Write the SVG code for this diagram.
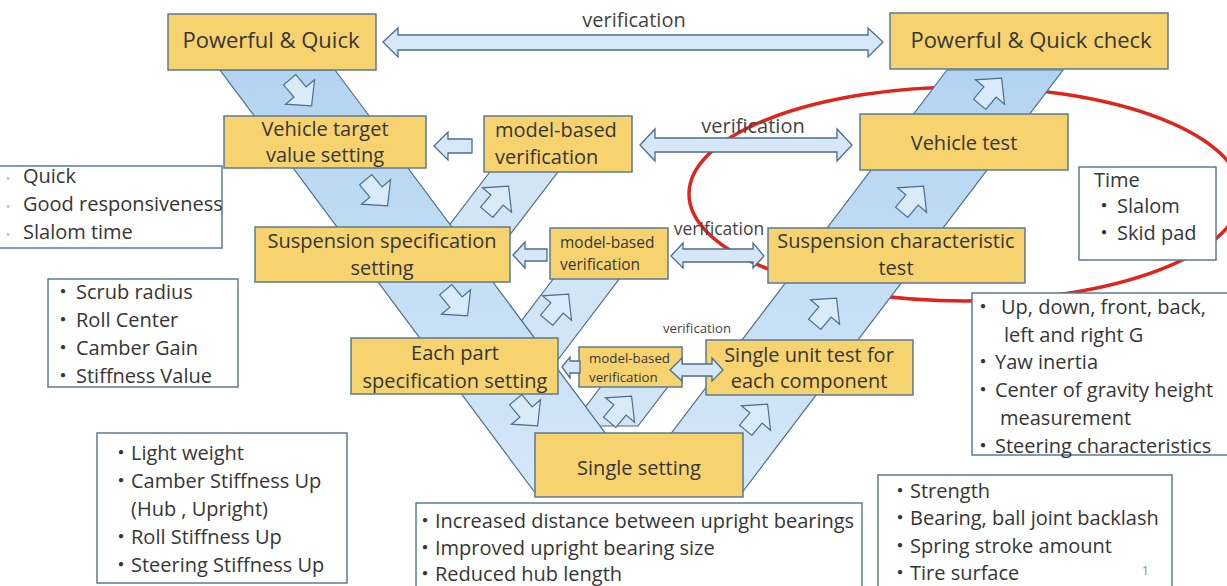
<svg xmlns="http://www.w3.org/2000/svg" xmlns:xlink="http://www.w3.org/1999/xlink" width="1227" height="586" viewBox="0 0 1227 586">
  <defs>
    <linearGradient id="bandFill" gradientUnits="userSpaceOnUse" x1="0" y1="70" x2="0" y2="494">
      <stop offset="0" stop-color="#b3d4f1"/>
      <stop offset="1" stop-color="#d5e8f8"/>
    </linearGradient>
    <!-- block arrow pointing along +x, rotated into place -->
    <path id="chev" d="M-16,-8 L0,-8 L0,-19 L18,0 L0,19 L0,8 L-16,8 Z"/>
    <style>
      .band { fill: url(#bandFill); stroke: #4b6e8e; stroke-width: 1.2; }
      .sub { fill: #d2e5f6; stroke: #4b6e8e; stroke-width: 1.2; }
      .chev { fill: #d9eaf8; stroke: #4b6e8e; stroke-width: 1.2; }
      .box { fill: #f7d36f; stroke: #5c7a93; stroke-width: 1.5; }
      .note { fill: #ffffff; stroke: #5c7a93; stroke-width: 1.5; }
      .link { fill: #d6e8f7; stroke: #4b6e8e; stroke-width: 1.3; }
      text { font-family: "Open Sans", "Noto Sans CJK JP", sans-serif; fill: #363636; }
      .t20 { font-size: 20px; }
      .t22 { font-size: 22px; }
      .mid { text-anchor: middle; }
      .lbl { fill: #444444; }
      .faint { fill: #c4c4c4; font-size: 14px; }
    </style>
  </defs>

  <rect x="0" y="0" width="1227" height="586" fill="#ffffff"/>

  <!-- red ellipse around the vehicle-level tests -->
  <ellipse cx="965" cy="194" rx="276" ry="107" fill="none" stroke="#e0241c" stroke-width="3.5"/>

  <!-- secondary branches to the model-based verification boxes -->
  <g id="branches">
    <polygon class="sub" points="499,160 567,160 483,270 415,270"/>
    <polygon class="sub" points="560,270 626,270 538,386 472,386"/>
    <polygon class="sub" points="606,380 673,380 638,426 571,426"/>
  </g>

  <!-- main V band -->
  <g id="vband">
    <polygon class="band" points="220,70 335,70 638,477 947,70 1063,70 741,494 536,494"/>
  </g>

  <!-- flow arrows inside the bands -->
  <g id="flow-arrows">
    <use xlink:href="#chev" class="chev" transform="translate(300,92) rotate(50)"/>
    <use xlink:href="#chev" class="chev" transform="translate(376,192) rotate(50)"/>
    <use xlink:href="#chev" class="chev" transform="translate(456,302) rotate(50)"/>
    <use xlink:href="#chev" class="chev" transform="translate(526,412) rotate(50)"/>
    <use xlink:href="#chev" class="chev" transform="translate(497,200) rotate(-50)"/>
    <use xlink:href="#chev" class="chev" transform="translate(557,308) rotate(-50)"/>
    <use xlink:href="#chev" class="chev" transform="translate(620,410) rotate(-50)"/>
    <use xlink:href="#chev" class="chev" transform="translate(990,92) rotate(-50)"/>
    <use xlink:href="#chev" class="chev" transform="translate(912,200) rotate(-50)"/>
    <use xlink:href="#chev" class="chev" transform="translate(825,312) rotate(-50)"/>
    <use xlink:href="#chev" class="chev" transform="translate(756,418) rotate(-50)"/>
  </g>

  <!-- process boxes -->
  <g id="n-powerful">
    <rect class="box" x="168" y="14" width="208" height="56"/>
    <text class="t22 mid" x="271" y="48">Powerful &amp; Quick</text>
  </g>
  <g id="n-powerful-check">
    <rect class="box" x="890" y="13" width="278" height="56"/>
    <text class="t22 mid" x="1031" y="48">Powerful &amp; Quick check</text>
  </g>
  <g id="n-vehicle-target">
    <rect class="box" x="224" y="116" width="202" height="52"/>
    <text class="t20 mid" x="325" y="136">Vehicle target</text>
    <text class="t20 mid" x="325" y="162">value setting</text>
  </g>
  <g id="n-mbv1">
    <rect class="box" x="484" y="116" width="148" height="56"/>
    <text class="t20" x="495" y="137">model-based</text>
    <text class="t20" x="495" y="164">verification</text>
  </g>
  <g id="n-vehicle-test">
    <rect class="box" x="860" y="114" width="208" height="56"/>
    <text class="t20 mid" x="964" y="150">Vehicle test</text>
  </g>
  <g id="n-susp-spec">
    <rect class="box" x="255" y="227" width="255" height="55"/>
    <text class="t20 mid" x="382" y="248">Suspension specification</text>
    <text class="t20 mid" x="382" y="275">setting</text>
  </g>
  <g id="n-mbv2">
    <rect class="box" x="550" y="228" width="118" height="51"/>
    <text x="560" y="248" style="font-size:15.5px">model-based</text>
    <text x="560" y="270" style="font-size:15.5px">verification</text>
  </g>
  <g id="n-susp-char">
    <rect class="box" x="768" y="228" width="257" height="55"/>
    <text class="t20 mid" x="896" y="248">Suspension characteristic</text>
    <text class="t20 mid" x="896" y="275">test</text>
  </g>
  <g id="n-each-part">
    <rect class="box" x="351" y="338" width="207" height="56"/>
    <text class="t20 mid" x="455" y="360">Each part</text>
    <text class="t20 mid" x="455" y="388">specification setting</text>
  </g>
  <g id="n-mbv3">
    <rect class="box" x="579" y="347" width="103" height="40"/>
    <text x="589" y="363" style="font-size:13.3px">model-based</text>
    <text x="589" y="382" style="font-size:13.3px">verification</text>
  </g>
  <g id="n-single-unit">
    <rect class="box" x="706" y="340" width="207" height="55"/>
    <text class="t20 mid" x="809" y="362">Single unit test for</text>
    <text class="t20 mid" x="809" y="388">each component</text>
  </g>
  <g id="n-single-setting">
    <rect class="box" x="535" y="433" width="208" height="64"/>
    <text class="t20 mid" x="639" y="475">Single setting</text>
  </g>

  <!-- connectors -->
  <g id="connectors">
    <polygon class="link" points="383,42 398,28 398,35 868,35 868,28 883,42 868,57 868,50 398,50 398,57"/>
    <polygon class="link" points="640,145 655,129 655,138 837,138 837,129 852,145 837,161 837,152 655,152 655,161"/>
    <polygon class="link" points="671,256 683,243 683,249 753,249 753,243 764,256 753,268 753,262 683,262 683,268"/>
    <polygon class="link" points="670,370 682,358 682,364 712,364 712,358 723,370 712,381 712,376 682,376 682,381"/>
    <polygon class="link" points="434,146 448,132 448,139 472,139 472,153 448,153 448,160"/>
    <polygon class="link" points="513,255 525,242 525,249 547,249 547,261 525,261 525,268"/>
    <polygon class="link" points="562,367 570,357 570,361 580,361 580,373 570,373 570,378"/>
    <text class="lbl mid" x="634" y="27" style="font-size:20px">verification</text>
    <text class="lbl mid" x="753" y="133" style="font-size:20px">verification</text>
    <text class="lbl mid" x="719" y="235" style="font-size:17.5px">verification</text>
    <text class="lbl mid" x="697" y="333" style="font-size:13.2px">verification</text>
  </g>

  <!-- annotation boxes -->
  <g id="note-targets">
    <rect class="note" x="-2" y="166" width="224" height="82"/>
    <text class="t20" y="183"><tspan class="faint" x="1">・</tspan><tspan x="23">Quick</tspan></text>
    <text class="t20" y="211"><tspan class="faint" x="1">・</tspan><tspan x="23">Good responsiveness</tspan></text>
    <text class="t20" y="239"><tspan class="faint" x="1">・</tspan><tspan x="23">Slalom time</tspan></text>
  </g>
  <g id="note-suspension">
    <rect class="note" x="48" y="279" width="190" height="108"/>
    <text class="t20" y="299"><tspan x="53">・</tspan><tspan x="76">Scrub radius</tspan></text>
    <text class="t20" y="327"><tspan x="53">・</tspan><tspan x="76">Roll Center</tspan></text>
    <text class="t20" y="355"><tspan x="53">・</tspan><tspan x="76">Camber Gain</tspan></text>
    <text class="t20" y="383"><tspan x="53">・</tspan><tspan x="76">Stiffness Value</tspan></text>
  </g>
  <g id="note-parts">
    <rect class="note" x="97" y="433" width="250" height="150"/>
    <text class="t20" y="460"><tspan x="111">・</tspan><tspan x="131">Light weight</tspan></text>
    <text class="t20" y="488"><tspan x="111">・</tspan><tspan x="131">Camber Stiffness Up</tspan></text>
    <text class="t20" x="131" y="516">(Hub , Upright)</text>
    <text class="t20" y="544"><tspan x="111">・</tspan><tspan x="131">Roll Stiffness Up</tspan></text>
    <text class="t20" y="572"><tspan x="111">・</tspan><tspan x="131">Steering Stiffness Up</tspan></text>
  </g>
  <g id="note-single">
    <rect class="note" x="416" y="503" width="446" height="100"/>
    <text class="t20" y="528"><tspan x="415">・</tspan><tspan x="435">Increased distance between upright bearings</tspan></text>
    <text class="t20" y="555"><tspan x="415">・</tspan><tspan x="435">Improved upright bearing size</tspan></text>
    <text class="t20" y="581"><tspan x="415">・</tspan><tspan x="435">Reduced hub length</tspan></text>
  </g>
  <g id="note-vehicle">
    <rect class="note" x="1079" y="167" width="137" height="93"/>
    <text class="t20" x="1094" y="187">Time</text>
    <text class="t20" y="213"><tspan x="1094">・</tspan><tspan x="1117">Slalom</tspan></text>
    <text class="t20" y="240"><tspan x="1094">・</tspan><tspan x="1117">Skid pad</tspan></text>
  </g>
  <g id="note-char">
    <rect class="note" x="972" y="293" width="262" height="162"/>
    <text class="t20" y="314"><tspan x="973">・</tspan><tspan x="1001">Up, down, front, back,</tspan></text>
    <text class="t20" x="1004" y="342">left and right G</text>
    <text class="t20" y="369"><tspan x="973">・</tspan><tspan x="995">Yaw inertia</tspan></text>
    <text class="t20" y="397"><tspan x="973">・</tspan><tspan x="995">Center of gravity height</tspan></text>
    <text class="t20" x="1000" y="425">measurement</text>
    <text class="t20" y="453"><tspan x="973">・</tspan><tspan x="995">Steering characteristics</tspan></text>
  </g>
  <g id="note-unit">
    <rect class="note" x="878" y="475" width="294" height="130"/>
    <text class="t20" y="498"><tspan x="890">・</tspan><tspan x="910">Strength</tspan></text>
    <text class="t20" y="525"><tspan x="890">・</tspan><tspan x="910">Bearing, ball joint backlash</tspan></text>
    <text class="t20" y="553"><tspan x="890">・</tspan><tspan x="910">Spring stroke amount</tspan></text>
    <text class="t20" y="580"><tspan x="890">・</tspan><tspan x="910">Tire surface</tspan></text>
    <text x="1142" y="575" style="font-size:12px;fill:#8a8a8a">1</text>
  </g>
</svg>
